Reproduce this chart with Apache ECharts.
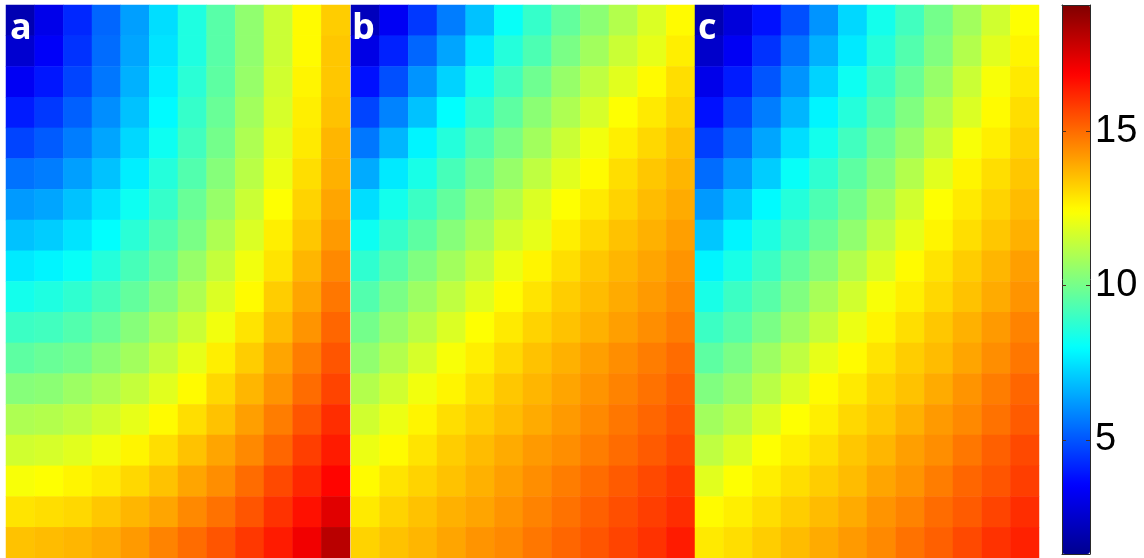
<!DOCTYPE html>
<html>
<head>
<meta charset="utf-8">
<script src="https://cdn.jsdelivr.net/npm/echarts@6.0.0/dist/echarts.min.js"></script>
<style>
html,body{margin:0;padding:0;background:#ffffff;}
#chart{width:1144px;height:558px;}
</style>
</head>
<body>
<div id="chart"></div>
<script>
// ---- data ----
const panelLabels = ['a', 'b', 'c'];
const colIds = ['1','2','3','4','5','6','7','8','9','10','11','12'];
const rowIds = ['1','2','3','4','5','6','7','8','9','10','11','12','13','14','15','16','17','18'];
const colorbarTicks = [5, 10, 15];
const colorbarMin = 1.3;
const colorbarMax = 19.1;

const panelA = [
  [2.0, 3.1, 4.2, 5.3, 6.3, 7.4, 8.5, 9.5, 10.5, 11.5, 12.5, 13.3],
  [2.6, 3.4, 4.4, 5.4, 6.4, 7.5, 8.5, 9.5, 10.5, 11.5, 12.5, 13.4],
  [3.3, 3.9, 4.7, 5.6, 6.6, 7.7, 8.7, 9.6, 10.6, 11.6, 12.6, 13.4],
  [4.0, 4.5, 5.2, 6.0, 6.9, 7.9, 8.9, 9.8, 10.8, 11.7, 12.7, 13.5],
  [4.7, 5.1, 5.7, 6.4, 7.3, 8.2, 9.1, 10.0, 11.0, 11.9, 12.8, 13.7],
  [5.5, 5.7, 6.3, 6.9, 7.7, 8.6, 9.4, 10.3, 11.2, 12.1, 13.0, 13.8],
  [6.2, 6.4, 6.9, 7.5, 8.2, 8.9, 9.8, 10.6, 11.5, 12.4, 13.2, 14.0],
  [6.9, 7.1, 7.5, 8.0, 8.7, 9.4, 10.1, 11.0, 11.8, 12.7, 13.4, 14.2],
  [7.6, 7.8, 8.1, 8.6, 9.2, 9.8, 10.6, 11.4, 12.2, 12.9, 13.7, 14.5],
  [8.3, 8.5, 8.8, 9.2, 9.7, 10.3, 11.0, 11.8, 12.5, 13.3, 14.0, 14.8],
  [9.0, 9.1, 9.4, 9.8, 10.3, 10.9, 11.5, 12.2, 12.9, 13.6, 14.3, 15.1],
  [9.6, 9.8, 10.0, 10.4, 10.8, 11.4, 12.0, 12.7, 13.3, 14.0, 14.7, 15.4],
  [10.3, 10.4, 10.7, 11.0, 11.4, 11.9, 12.5, 13.1, 13.7, 14.3, 15.0, 15.7],
  [11.0, 11.1, 11.3, 11.6, 12.0, 12.5, 13.0, 13.5, 14.1, 14.7, 15.4, 16.1],
  [11.6, 11.7, 11.9, 12.2, 12.6, 13.0, 13.5, 14.0, 14.5, 15.1, 15.8, 16.4],
  [12.3, 12.4, 12.6, 12.8, 13.1, 13.5, 14.0, 14.4, 15.0, 15.6, 16.2, 16.8],
  [12.9, 13.0, 13.1, 13.4, 13.7, 14.0, 14.5, 14.9, 15.4, 16.0, 16.6, 17.4],
  [13.5, 13.6, 13.7, 13.9, 14.2, 14.6, 15.0, 15.4, 15.9, 16.4, 17.1, 18.1]
];

const panelB = [
  [2.2, 3.3, 4.5, 5.7, 6.9, 8.1, 8.9, 9.7, 10.4, 11.1, 11.8, 12.5],
  [3.0, 4.1, 5.3, 6.4, 7.6, 8.6, 9.3, 10.1, 10.8, 11.5, 12.0, 12.7],
  [3.8, 4.9, 6.1, 7.2, 8.3, 9.1, 9.9, 10.6, 11.3, 11.9, 12.5, 13.0],
  [4.7, 5.8, 6.9, 8.0, 8.8, 9.6, 10.4, 11.0, 11.7, 12.4, 12.8, 13.2],
  [5.6, 6.7, 7.8, 8.6, 9.4, 10.1, 10.8, 11.5, 12.2, 12.7, 13.1, 13.5],
  [6.5, 7.6, 8.4, 9.2, 9.9, 10.6, 11.3, 11.9, 12.5, 13.0, 13.4, 13.7],
  [7.4, 8.3, 9.0, 9.7, 10.5, 11.1, 11.8, 12.4, 12.8, 13.2, 13.6, 13.9],
  [8.2, 8.9, 9.6, 10.3, 10.9, 11.6, 12.0, 12.7, 13.1, 13.5, 13.8, 14.1],
  [8.8, 9.5, 10.2, 10.8, 11.4, 12.1, 12.6, 13.0, 13.4, 13.7, 14.0, 14.3],
  [9.4, 10.1, 10.7, 11.3, 11.9, 12.5, 12.9, 13.3, 13.6, 13.9, 14.2, 14.5],
  [10.0, 10.6, 11.2, 11.8, 12.4, 12.8, 13.2, 13.5, 13.8, 14.1, 14.4, 14.7],
  [10.5, 11.1, 11.7, 12.3, 12.7, 13.1, 13.5, 13.8, 14.1, 14.4, 14.7, 15.0],
  [11.1, 11.6, 12.2, 12.6, 13.0, 13.4, 13.7, 14.0, 14.3, 14.6, 14.9, 15.2],
  [11.6, 12.1, 12.6, 13.0, 13.3, 13.6, 13.9, 14.2, 14.5, 14.8, 15.1, 15.4],
  [12.1, 12.5, 12.9, 13.3, 13.6, 13.9, 14.2, 14.4, 14.7, 15.0, 15.3, 15.6],
  [12.5, 12.9, 13.2, 13.5, 13.8, 14.1, 14.4, 14.7, 15.0, 15.3, 15.6, 15.9],
  [12.8, 13.2, 13.5, 13.8, 14.0, 14.3, 14.6, 14.9, 15.2, 15.5, 15.8, 16.1],
  [13.2, 13.5, 13.7, 14.0, 14.3, 14.5, 14.8, 15.1, 15.4, 15.7, 16.0, 16.4]
];

const panelC = [
  [2.0, 2.8, 3.8, 4.9, 6.1, 7.3, 8.3, 9.1, 10.0, 10.8, 11.6, 12.4],
  [2.5, 3.3, 4.4, 5.5, 6.6, 7.6, 8.6, 9.4, 10.2, 11.1, 11.9, 12.6],
  [3.1, 4.0, 5.0, 6.1, 7.2, 8.2, 9.0, 9.8, 10.6, 11.5, 12.3, 12.8],
  [3.8, 4.7, 5.7, 6.7, 7.8, 8.6, 9.4, 10.2, 11.0, 11.8, 12.5, 13.0],
  [4.6, 5.4, 6.4, 7.4, 8.3, 9.1, 9.9, 10.6, 11.4, 12.3, 12.7, 13.2],
  [5.4, 6.2, 7.1, 8.1, 8.8, 9.6, 10.3, 11.1, 11.9, 12.6, 13.0, 13.4],
  [6.2, 7.0, 7.9, 8.6, 9.3, 10.0, 10.8, 11.6, 12.4, 12.8, 13.2, 13.6],
  [7.0, 7.8, 8.5, 9.1, 9.8, 10.5, 11.3, 12.0, 12.6, 13.0, 13.4, 13.8],
  [7.8, 8.4, 9.0, 9.7, 10.3, 11.1, 11.8, 12.5, 12.9, 13.3, 13.7, 14.1],
  [8.4, 9.0, 9.5, 10.2, 10.9, 11.6, 12.3, 12.7, 13.1, 13.5, 13.9, 14.3],
  [9.0, 9.5, 10.1, 10.7, 11.4, 12.1, 12.6, 13.0, 13.4, 13.8, 14.2, 14.6],
  [9.6, 10.1, 10.7, 11.3, 12.0, 12.5, 12.9, 13.3, 13.6, 14.0, 14.4, 14.8],
  [10.2, 10.6, 11.2, 11.8, 12.5, 12.8, 13.2, 13.5, 13.9, 14.3, 14.7, 15.1],
  [10.8, 11.2, 11.8, 12.4, 12.7, 13.1, 13.4, 13.8, 14.2, 14.5, 14.9, 15.3],
  [11.3, 11.8, 12.4, 12.7, 13.0, 13.4, 13.7, 14.1, 14.4, 14.8, 15.2, 15.6],
  [11.9, 12.4, 12.7, 13.0, 13.3, 13.6, 14.0, 14.3, 14.7, 15.1, 15.4, 15.8],
  [12.5, 12.7, 13.0, 13.3, 13.6, 13.9, 14.3, 14.6, 15.0, 15.3, 15.7, 16.1],
  [12.8, 13.0, 13.3, 13.6, 13.9, 14.2, 14.5, 14.9, 15.2, 15.6, 16.0, 16.3]
];

// ---- styling ----
const jetColors = ['#00008f', '#0000ff', '#0080ff', '#00ffff', '#80ff80',
                   '#ffff00', '#ff8000', '#ff0000', '#800000'];
const panelLefts = [6, 351, 695];
const labelLefts = [10, 352, 698];
const panelTop = 5, panelWidth = 344, panelHeight = 553;

function toCells(rows) {
  const out = [];
  rows.forEach((row, j) => row.forEach((v, i) => out.push([i, j, v])));
  return out;
}
const panels = [panelA, panelB, panelC];

const grids = panelLefts.map(l => ({left: l, top: panelTop, width: panelWidth, height: panelHeight}));
grids.push({left: 1062, top: 5, width: 28, height: 549});

const xAxes = panelLefts.map((l, k) => ({
  type: 'category', gridIndex: k, data: colIds, show: false
}));
const yAxes = panelLefts.map((l, k) => ({
  type: 'category', gridIndex: k, data: rowIds, inverse: true, show: false
}));

const frameLine = {show: true, onZero: false, lineStyle: {color: '#2a2a2a', width: 1}};
const tickStyle = {show: true, inside: true, length: 4, customValues: colorbarTicks,
                   lineStyle: {color: '#4a3020', width: 1}};
xAxes.push({type: 'value', gridIndex: 3, position: 'bottom', min: 0, max: 1,
  axisLine: frameLine, axisTick: {show: false}, axisLabel: {show: false}, splitLine: {show: false}, z: 10});
xAxes.push({type: 'value', gridIndex: 3, position: 'top', min: 0, max: 1,
  axisLine: frameLine, axisTick: {show: false}, axisLabel: {show: false}, splitLine: {show: false}, z: 10});
yAxes.push({type: 'value', gridIndex: 3, position: 'right', min: colorbarMin, max: colorbarMax,
  axisLine: frameLine, axisTick: tickStyle,
  axisLabel: {show: true, customValues: colorbarTicks, fontSize: 38, color: '#000',
              fontFamily: 'Liberation Sans, Arial, sans-serif', margin: 5},
  splitLine: {show: false}, z: 10});
yAxes.push({type: 'value', gridIndex: 3, position: 'left', min: colorbarMin, max: colorbarMax,
  axisLine: frameLine, axisTick: tickStyle,
  axisLabel: {show: false}, splitLine: {show: false}, z: 10});

const titles = panelLabels.map((t, k) => ({
  text: t, left: labelLefts[k], top: 11, padding: 0,
  textStyle: {color: '#ffffff', fontSize: 36, fontWeight: 'bold', fontFamily: 'Open Sans, DejaVu Sans, sans-serif'}
}));

const series = panels.map((p, k) => ({
  type: 'heatmap', xAxisIndex: k, yAxisIndex: k, data: toCells(p),
  emphasis: {disabled: true}, progressive: 0, animation: false
}));

const option = {
  backgroundColor: '#ffffff',
  animation: false,
  title: titles,
  grid: grids,
  xAxis: xAxes,
  yAxis: yAxes,
  visualMap: {
    type: 'continuous', min: colorbarMin, max: colorbarMax, seriesIndex: [0, 1, 2],
    calculable: false, hoverLink: false, orient: 'vertical',
    left: 1062, top: 5, itemWidth: 28, itemHeight: 549, padding: 0,
    inRange: {color: jetColors}, z: 1
  },
  series: series
};

const chart = echarts.init(document.getElementById('chart'), null, {renderer: 'canvas'});
chart.setOption(option);
</script>
</body>
</html>
